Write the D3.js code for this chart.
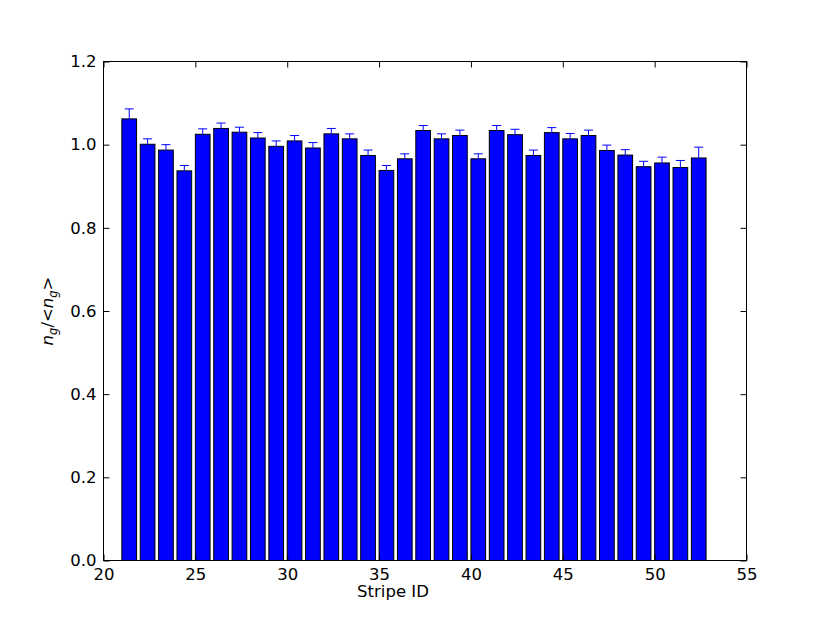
<!DOCTYPE html>
<html>
<head>
<meta charset="utf-8">
<script src="https://cdn.jsdelivr.net/npm/d3@7"></script>
<style>
body { margin: 0; background: #fff; }
text { font-family: "DejaVu Sans", sans-serif; }
.axis text { font-size: 16.5px; fill: #000; }
.axis line { stroke: #000; }
.axis .domain { display: none; }
</style>
</head>
<body>
<svg width="830" height="623"></svg>
<script>
// stripe ids, normalised counts and their errors
var stripeIds = [21, 22, 23, 24, 25, 26, 27, 28, 29, 30, 31, 32, 33, 34, 35, 36,
                 37, 38, 39, 40, 41, 42, 43, 44, 45, 46, 47, 48, 49, 50, 51, 52];
var ratios = [1.062, 1.001, 0.987, 0.937, 1.025, 1.039, 1.030, 1.016, 0.996, 1.009, 0.992,
              1.026, 1.014, 0.974, 0.938, 0.966, 1.034, 1.014, 1.022, 0.966, 1.034, 1.024,
              0.974, 1.029, 1.014, 1.022, 0.986, 0.975, 0.947, 0.956, 0.945, 0.968];
var errors = [0.024, 0.013, 0.013, 0.013, 0.013, 0.013, 0.012, 0.013, 0.013, 0.013, 0.013,
              0.013, 0.012, 0.013, 0.012, 0.012, 0.012, 0.012, 0.013, 0.012, 0.012, 0.013,
              0.013, 0.012, 0.013, 0.013, 0.013, 0.013, 0.013, 0.014, 0.017, 0.026];
var xTicks = [20, 25, 30, 35, 40, 45, 50, 55];
var yTicks = [0, 0.2, 0.4, 0.6, 0.8, 1.0, 1.2];

var svg = d3.select("svg");
var axL = 103.5, axR = 746.5, axT = 61.5, axB = 560.5;

var x = d3.scaleLinear().domain([20, 55]).range([axL, axR]);
var y = d3.scaleLinear().domain([0, 1.2]).range([axB, axT]);

var barW = 0.8;
var data = stripeIds.map(function(id, i) { return {id: id, v: ratios[i], e: errors[i]}; });

// bars (left edge at id, like old matplotlib)
svg.append("g").selectAll("rect")
  .data(data)
  .enter().append("rect")
    .attr("x", function(d) { return x(d.id); })
    .attr("y", function(d) { return y(d.v); })
    .attr("width", function(d) { return x(d.id + barW) - x(d.id); })
    .attr("height", function(d) { return y(0) - y(d.v); })
    .attr("fill", "#0000ff")
    .attr("stroke", "#000")
    .attr("stroke-width", 1);

// error bars
var eb = svg.append("g").attr("stroke", "#0000ff").attr("stroke-width", 1);
data.forEach(function(d) {
  var cx = x(d.id + barW / 2);
  eb.append("line").attr("x1", cx).attr("x2", cx)
    .attr("y1", y(d.v - d.e)).attr("y2", y(d.v + d.e));
  [d.v - d.e, d.v + d.e].forEach(function(v) {
    eb.append("line").attr("x1", cx - 4.5).attr("x2", cx + 4.5)
      .attr("y1", y(v)).attr("y2", y(v));
  });
});

// axes, ticks pointing inward on all sides
svg.append("g").attr("class", "axis")
    .attr("transform", "translate(0," + axB + ")")
    .call(d3.axisBottom(x).tickValues(xTicks).tickSize(-6).tickPadding(8).tickFormat(d3.format("d")));
svg.append("g").attr("class", "axis")
    .attr("transform", "translate(0," + axT + ")")
    .call(d3.axisTop(x).tickValues(xTicks).tickSize(-6).tickFormat(""));
svg.append("g").attr("class", "axis")
    .attr("transform", "translate(" + axL + ",0)")
    .call(d3.axisLeft(y).tickValues(yTicks).tickSize(-6).tickPadding(7).tickFormat(d3.format(".1f")));
svg.append("g").attr("class", "axis")
    .attr("transform", "translate(" + axR + ",0)")
    .call(d3.axisRight(y).tickValues(yTicks).tickSize(-6).tickFormat(""));

svg.append("rect")
    .attr("x", axL).attr("y", axT)
    .attr("width", axR - axL).attr("height", axB - axT)
    .attr("fill", "none").attr("stroke", "#000").attr("stroke-width", 1);

// labels
svg.append("text")
    .attr("x", 393).attr("y", 597)
    .attr("text-anchor", "middle")
    .attr("font-size", 16.5)
    .text("Stripe ID");

var yl = svg.append("text")
    .attr("transform", "translate(53,311) rotate(-90)")
    .attr("text-anchor", "middle")
    .attr("font-size", 16.5);
yl.append("tspan").attr("font-style", "italic").text("n");
yl.append("tspan").attr("font-style", "italic").attr("font-size", 11.5).attr("dy", 4).text("g");
yl.append("tspan").attr("dy", -4).text("/<");
yl.append("tspan").attr("font-style", "italic").text("n");
yl.append("tspan").attr("font-style", "italic").attr("font-size", 11.5).attr("dy", 4).text("g");
yl.append("tspan").attr("dy", -4).text(">");
</script>
</body>
</html>
